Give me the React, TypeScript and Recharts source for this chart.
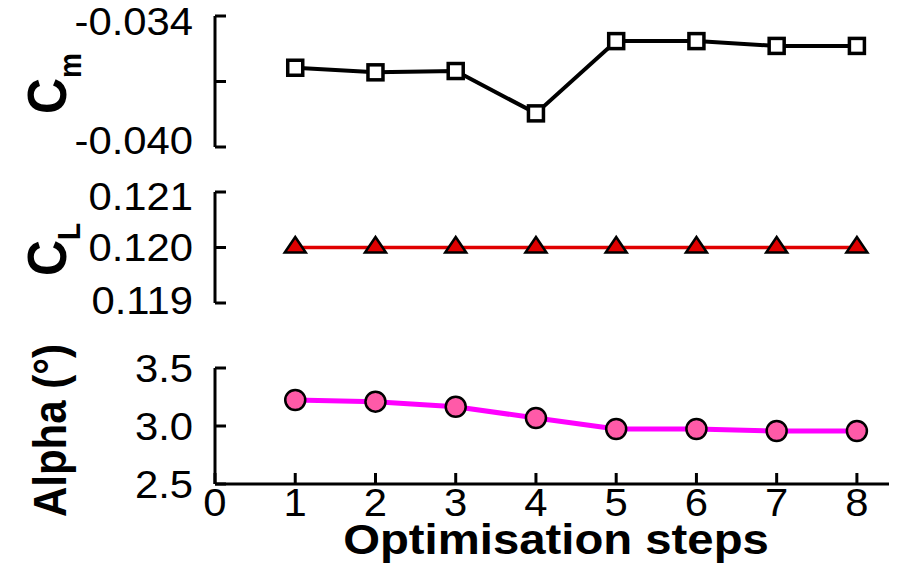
import { LineChart, Line, XAxis, YAxis } from "recharts";

const steps = [1, 2, 3, 4, 5, 6, 7, 8];
const cmValues = [-0.03637, -0.03658, -0.03652, -0.03846, -0.03515, -0.03515, -0.03537, -0.03537];
const clValues = [0.12, 0.12, 0.12, 0.12, 0.12, 0.12, 0.12, 0.12];
const alphaValues = [3.224, 3.21, 3.166, 3.069, 2.974, 2.974, 2.957, 2.957];

const xTicks = [0, 1, 2, 3, 4, 5, 6, 7, 8];
const cmTicks = [-0.04, -0.037, -0.034];
const cmLabels = ["-0.040", "", "-0.034"];
const clTicks = [0.119, 0.12, 0.121];
const clLabels = ["0.119", "0.120", "0.121"];
const alphaTicks = [2.5, 3.0, 3.5];
const alphaLabels = ["2.5", "3.0", "3.5"];

const data = steps.map((s, i) => ({
  step: s,
  cm: cmValues[i],
  cl: clValues[i],
  alpha: alphaValues[i],
}));

const W = 904;
const H = 564;
const FONT = '"Liberation Sans", Arial, Helvetica, sans-serif';
const SX = 1.1; // the figure is a bit stretched sideways
const AXIS_W = 100;
const LEFT = 215;
const RIGHT = 889;

const labelFor = (ticks: number[], labels: string[], v: number) => {
  const i = ticks.findIndex((t) => Math.abs(t - v) < 1e-9);
  return i >= 0 ? labels[i] : "";
};

const makeYTick =
  (ticks: number[], labels: string[], shifts: number[] = []) =>
  (props: any) => {
    const { x, y, payload } = props;
    const i = ticks.findIndex((t) => Math.abs(t - payload.value) < 1e-9);
    const txt = labelFor(ticks, labels, payload.value);
    const dy = shifts[i] || 0;
    return (
      <text
        transform={`translate(${x},${y + dy + 13.6}) scale(${SX},1)`}
        textAnchor="end"
        fontSize={38}
        fontFamily={FONT}
        fill="#000"
      >
        {txt}
      </text>
    );
  };

const XTick = (props: any) => {
  const { x, y, payload } = props;
  return (
    <text
      transform={`translate(${x},${y + 27}) scale(${SX},1)`}
      textAnchor="middle"
      fontSize={38}
      fontFamily={FONT}
      fill="#000"
    >
      {payload.value}
    </text>
  );
};

const SquareDot = (props: any) => {
  const { cx, cy, index } = props;
  return (
    <rect key={index} x={cx - 7.5} y={cy - 7.5} width={15} height={15} fill="#fff" stroke="#000" strokeWidth={3.5} />
  );
};

const TriangleDot = (props: any) => {
  const { cx, cy, index } = props;
  return (
    <path
      key={index}
      d={`M${cx},${cy - 10.5} L${cx + 10.5},${cy + 5} L${cx - 10.5},${cy + 5} Z`}
      fill="#e00000"
      stroke="#000"
      strokeWidth={2.5}
      strokeLinejoin="miter"
    />
  );
};

const CircleDot = (props: any) => {
  const { cx, cy, index } = props;
  return <circle key={index} cx={cx} cy={cy} r={10} fill="#ff5aa8" stroke="#000" strokeWidth={2.5} />;
};

const axisLine = { stroke: "#000", strokeWidth: 3 };
const tickLine = { stroke: "#000", strokeWidth: 3 };

const panel = (top: number, bottom: number) => ({
  top,
  bottom: H - bottom,
  left: LEFT - AXIS_W,
  right: W - RIGHT,
});

const layer: React.CSSProperties = { position: "absolute", left: 0, top: 0 };

export default function App() {
  return (
    <div style={{ position: "absolute", left: 0, top: 0, width: W, height: H, background: "#fff" }}>
      <div style={layer}>
        <LineChart width={W} height={H} data={data} margin={panel(16, 147)}>
          <XAxis type="number" dataKey="step" domain={[0, 8.4]} hide />
          <YAxis
            type="number"
            domain={[-0.04, -0.034]}
            ticks={cmTicks}
            width={AXIS_W}
            axisLine={axisLine}
            tickLine={tickLine}
            tickSize={-11}
            tickMargin={33}
            tick={makeYTick(cmTicks, cmLabels, [-7, 0, 5])}
            interval={0}
          />
          <Line
            dataKey="cm"
            stroke="#000"
            strokeWidth={4}
            dot={SquareDot}
            isAnimationActive={false}
          />
        </LineChart>
      </div>
      <div style={layer}>
        <LineChart width={W} height={H} data={data} margin={panel(192, 303)}>
          <XAxis type="number" dataKey="step" domain={[0, 8.4]} hide />
          <YAxis
            type="number"
            domain={[0.119, 0.121]}
            ticks={clTicks}
            width={AXIS_W}
            axisLine={axisLine}
            tickLine={tickLine}
            tickSize={-11}
            tickMargin={33}
            tick={makeYTick(clTicks, clLabels, [-3, 0, 4])}
            interval={0}
          />
          <Line
            dataKey="cl"
            stroke="#e00000"
            strokeWidth={3.5}
            dot={TriangleDot}
            isAnimationActive={false}
          />
        </LineChart>
      </div>
      <div style={layer}>
        <LineChart width={W} height={H} data={data} margin={{ ...panel(368, 484), bottom: H - 484 - 40 }}>
          <XAxis
            type="number"
            dataKey="step"
            domain={[0, 8.4]}
            ticks={xTicks}
            height={40}
            axisLine={axisLine}
            tickLine={tickLine}
            tickSize={-11}
            tickMargin={16}
            tick={XTick}
            interval={0}
          />
          <YAxis
            type="number"
            domain={[2.5, 3.5]}
            ticks={alphaTicks}
            width={AXIS_W}
            axisLine={axisLine}
            tickLine={tickLine}
            tickSize={-11}
            tickMargin={33}
            tick={makeYTick(alphaTicks, alphaLabels)}
            interval={0}
          />
          <Line
            dataKey="alpha"
            stroke="#ff00ff"
            strokeWidth={5}
            dot={CircleDot}
            isAnimationActive={false}
          />
        </LineChart>
      </div>
      <svg width={W} height={H} style={{ ...layer, pointerEvents: "none" }}>
        <g fontFamily={FONT} fontWeight="bold" fill="#000">
          <text transform={`translate(66,114) scale(${SX},1) rotate(-90)`} fontSize={50}>
            C<tspan fontSize={28} dy={14}>m</tspan>
          </text>
          <text transform={`translate(66,276) scale(${SX},1) rotate(-90)`} fontSize={50}>
            C<tspan fontSize={28} dy={13}>L</tspan>
          </text>
          <text transform={`translate(66,517) scale(${SX},1) rotate(-90)`} fontSize={42}>
            Alpha (°)
          </text>
          <text transform={`translate(556,554) scale(${SX},1)`} textAnchor="middle" fontSize={43}>
            Optimisation steps
          </text>
        </g>
      </svg>
    </div>
  );
}
